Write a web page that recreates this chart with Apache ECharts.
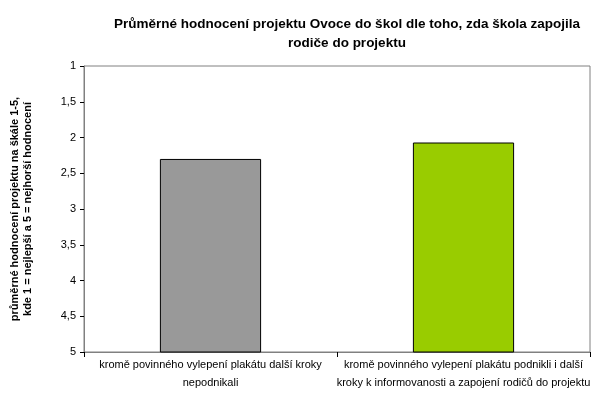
<!DOCTYPE html><html><head><meta charset="utf-8"><script src="https://cdn.jsdelivr.net/npm/echarts@6/dist/echarts.min.js"></script>
<style>html,body{margin:0;background:#fff}#c{width:601px;height:417px}</style></head><body><div id="c"></div><script>
const categories=['kromě povinného vylepení plakátu další kroky\nnepodnikali','kromě povinného vylepení plakátu podnikli i další\nkroky k informovanosti a zapojení rodičů do projektu'];
const values=[2.3,2.07];
const colors=['#999999','#99CC00'];
const chart=echarts.init(document.getElementById('c'));
chart.setOption({
 animation:false,
 title:{text:'Průměrné hodnocení projektu Ovoce do škol dle toho, zda škola zapojila\nrodiče do projektu',left:342,top:10,textAlign:'center',textStyle:{fontFamily:'Liberation Sans',fontSize:13.5,fontWeight:'bold',color:'#000',lineHeight:19}},
 grid:{left:80,right:11,top:66,bottom:65,show:true,borderColor:'#808080',borderWidth:1},
 xAxis:{type:'category',data:categories,axisTick:{show:true,length:5,lineStyle:{color:'#000'}},axisLine:{lineStyle:{color:'#808080'}},
  axisLabel:{interval:0,fontFamily:'Liberation Sans',fontSize:11,color:'#000',lineHeight:18,margin:4}},
 yAxis:{type:'value',min:1,max:5,interval:0.5,
  name:'průměrné hodnocení projektu na škále 1-5,\nkde 1 = nejlepší a 5 = nejhorší hodnocení',nameLocation:'middle',nameGap:50,
  nameTextStyle:{fontFamily:'Liberation Sans',fontSize:11,fontWeight:'bold',color:'#000',lineHeight:13},
  axisLine:{show:true,lineStyle:{color:'#808080'}},axisTick:{show:true,length:4,lineStyle:{color:'#000'}},splitLine:{show:false},
  axisLabel:{fontFamily:'Liberation Sans',fontSize:11,color:'#000',formatter:v=>String(+(6-v).toFixed(1)).replace('.',',')}},
 series:[{type:'bar',barWidth:'40%',data:values.map((v,i)=>({value:6-v,itemStyle:{color:colors[i],borderColor:'#000',borderWidth:1}}))}]
});
</script></body></html>
